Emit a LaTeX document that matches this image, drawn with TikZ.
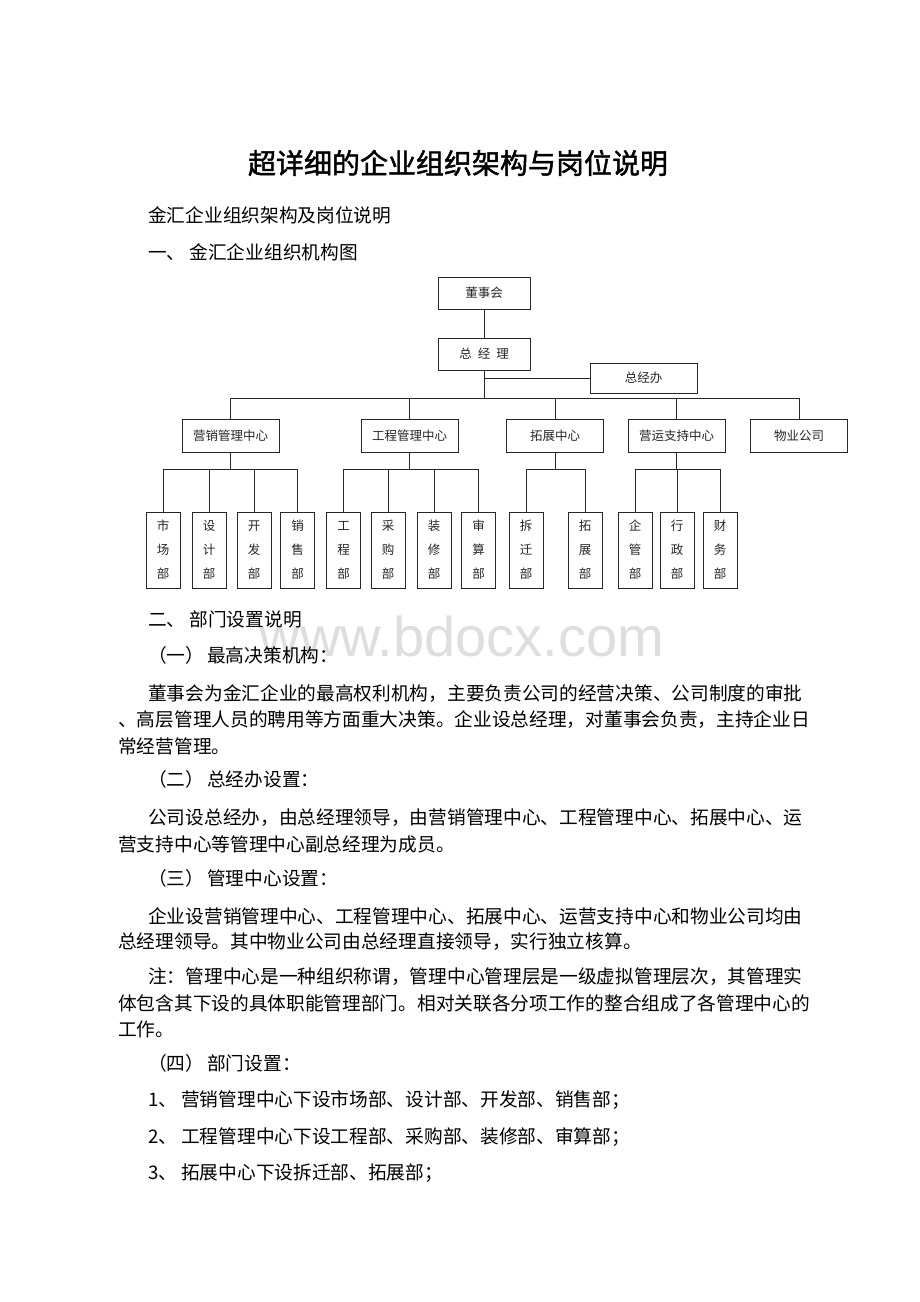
\documentclass[tikz,border=0pt]{standalone}
\usepackage{fontspec}
\usepackage{tikz}
\usetikzlibrary{positioning}
\setmainfont{Liberation Serif}
\newfontfamily\cjk{Noto Sans CJK SC}
\newfontfamily\cjktitle{Noto Sans CJK SC}[FakeBold=1.6]
\newfontfamily\wmfont{Liberation Sans}
\newcommand{\bodyfont}{\cjk\fontsize{18.7}{18.7}\selectfont}
\newcommand{\chartfont}{\cjk\fontsize{12.5}{24}\selectfont}
\tikzset{
  orgbox/.style={draw=black!85, line width=0.9pt, inner sep=0pt, font=\chartfont, text=black!85},
  topbox/.style={orgbox, minimum width=92pt, minimum height=32pt},
  centerbox/.style={orgbox, minimum width=97pt, minimum height=33pt},
  deptbox/.style={orgbox, minimum width=34pt, minimum height=76pt, align=center},
  link/.style={draw=black!85, line width=0.8pt},
  para/.style={anchor=west, inner sep=0pt, font=\bodyfont}
}

\begin{document}
\begin{tikzpicture}[x=1pt,y=-1pt]
            \useasboundingbox (0,0) rectangle (920,1302);
            \fill [white] (0,0) rectangle (920,1302);
            \node [font=\wmfont\fontsize{56}{56}\selectfont, text=black!13] (wm) at (462,636) {www.bdocx.com};
            \node [font=\cjktitle\fontsize{28}{28}\selectfont, inner sep=0pt] (title) at (458,163) {超详细的企业组织架构与岗位说明};
            \node [para] (l1) at (148,215) {金汇企业组织架构及岗位说明};
            \node [para] (l2) at (148,252) {一、\hspace{4pt}金汇企业组织机构图};
            \node [topbox] (dsh) at (484,293) {董事会};
            \node [topbox] (zjl) at (484,354) {总\hspace{6pt}经\hspace{6pt}理};
            \node [orgbox, minimum width=107pt, minimum height=30pt] (zjb) at (643.5,378) {总经办};
            \node [centerbox] (yx) at (230.5,435.5) {营销管理中心};
            \node [centerbox] (gc) at (409.5,435.5) {工程管理中心};
            \node [centerbox] (tz) at (555,435.5) {拓展中心};
            \node [centerbox] (yy) at (676.5,435.5) {营运支持中心};
            \node [centerbox] (wy) at (799,435.5) {物业公司};
            \node [deptbox] (scb) at (163,550) {市\\场\\部};
            \node [deptbox] (sjb) at (209,550) {设\\计\\部};
            \node [deptbox] (kfb) at (254,550) {开\\发\\部};
            \node [deptbox] (xsb) at (297.5,550) {销\\售\\部};
            \node [deptbox] (gcb) at (343.5,550) {工\\程\\部};
            \node [deptbox] (cgb) at (388,550) {采\\购\\部};
            \node [deptbox] (zxb) at (434,550) {装\\修\\部};
            \node [deptbox] (ssb) at (478.5,550) {审\\算\\部};
            \node [deptbox] (cqb) at (526,550) {拆\\迁\\部};
            \node [deptbox] (tzb) at (585,550) {拓\\展\\部};
            \node [deptbox] (qgb) at (635,550) {企\\管\\部};
            \node [deptbox] (xzb) at (677,550) {行\\政\\部};
            \node [deptbox] (cwb) at (720,550) {财\\务\\部};
            \draw [link] (dsh) -- (zjl);
            \draw [link] (zjl.south |- zjb.west) -- (zjb.west);
            \foreach \c in {yx,gc,tz,yy,wy}
              \draw [link] (zjl.south) -- ++(0,28) -| (\c.north);
            \foreach \p/\c in {yx/scb,yx/sjb,yx/kfb,yx/xsb,gc/gcb,gc/cgb,gc/zxb,gc/ssb,tz/cqb,tz/tzb,yy/qgb,yy/xzb,yy/cwb}
              \draw [link] (\p.south) -- ++(0,17) -| (\c.north);
            \node [para] (l3) at (148,619) {二、\hspace{4pt}部门设置说明};
            \node [para] (l4) at (148,655) {（一）\hspace{3pt}最高决策机构：};
            \node [para] (l5) at (148,694) {董事会为金汇企业的最高权利机构，主要负责公司的经营决策、公司制度的审批};
            \node [para] (l6) at (118,720) {、高层管理人员的聘用等方面重大决策。企业设总经理，对董事会负责，主持企业日};
            \node [para] (l7) at (118,746) {常经营管理。};
            \node [para] (l8) at (148,779) {（二）\hspace{3pt}总经办设置：};
            \node [para] (l9) at (148,818) {公司设总经办，由总经理领导，由营销管理中心、工程管理中心、拓展中心、运};
            \node [para] (l10) at (118,844) {营支持中心等管理中心副总经理为成员。};
            \node [para] (l11) at (148,878) {（三）\hspace{3pt}管理中心设置：};
            \node [para] (l12) at (148,916) {企业设营销管理中心、工程管理中心、拓展中心、运营支持中心和物业公司均由};
            \node [para] (l13) at (118,942) {总经理领导。其中物业公司由总经理直接领导，实行独立核算。};
            \node [para] (l14) at (148,977) {注：管理中心是一种组织称谓，管理中心管理层是一级虚拟管理层次，其管理实};
            \node [para] (l15) at (118,1003) {体包含其下设的具体职能管理部门。相对关联各分项工作的整合组成了各管理中心的};
            \node [para] (l16) at (118,1029) {工作。};
            \node [para] (l17) at (148,1063) {（四）\hspace{3pt}部门设置：};
            \node [para] (l18) at (148,1100) {1、\hspace{4pt}营销管理中心下设市场部、设计部、开发部、销售部；};
            \node [para] (l19) at (148,1137) {2、\hspace{4pt}工程管理中心下设工程部、采购部、装修部、审算部；};
            \node [para] (l20) at (148,1173) {3、\hspace{4pt}拓展中心下设拆迁部、拓展部；};
\end{tikzpicture}
\end{document}
